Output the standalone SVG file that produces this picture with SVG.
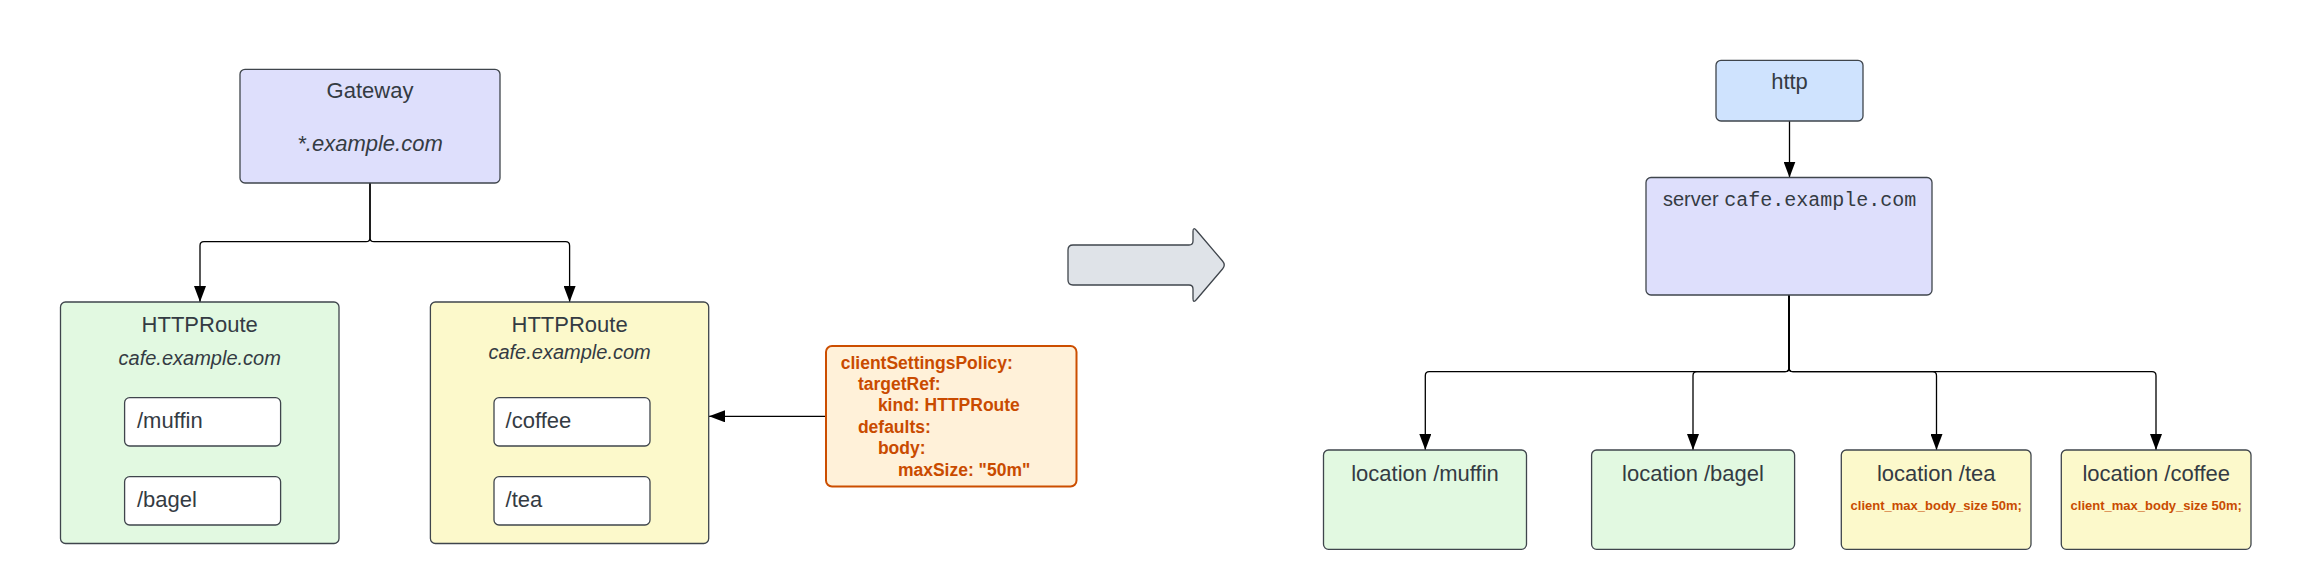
<svg xmlns="http://www.w3.org/2000/svg" width="2313" height="582" viewBox="0 0 2313 582">
<defs>
<style>
.box{stroke:#3f454c;stroke-width:1.3}
.lav{fill:#dedffc}
.grn{fill:#e2f9e1}
.yel{fill:#fcf9cb}
.blu{fill:#cfe3fe}
.wht{fill:#ffffff}
.t{font-family:"Liberation Sans",Arial,sans-serif;fill:#343b43;font-size:22px}
.i{font-style:italic;font-size:20px}
.s20{font-size:20px}
.c{text-anchor:middle}
.mono{font-family:"Liberation Mono","Courier New",monospace}
.pol{font-family:"Liberation Sans",Arial,sans-serif;font-weight:bold;fill:#c94b00;font-size:17.5px}
.cm{font-family:"Liberation Sans",Arial,sans-serif;font-weight:bold;fill:#c94b00;font-size:13px;text-anchor:middle}
.conn{fill:none;stroke:#000000;stroke-width:1.3}
</style>
<marker id="ah" viewBox="0 0 16 12" refX="16" refY="6" markerWidth="16" markerHeight="12" markerUnits="userSpaceOnUse" orient="auto">
<path d="M0,0 L16,6 L0,12 Z" fill="#000000"/>
</marker>
</defs>
<rect width="2313" height="582" fill="#ffffff"/>

<g id="connectors">
<path class="conn" marker-end="url(#ah)" d="M370,183 V237.7 Q370,241.7 366,241.7 H204 Q200,241.7 200,245.7 V302"/>
<path class="conn" marker-end="url(#ah)" d="M370,183 V237.7 Q370,241.7 374,241.7 H565.6 Q569.6,241.7 569.6,245.7 V302"/>
<path class="conn" marker-end="url(#ah)" d="M826,416.3 H709"/>
<path class="conn" marker-end="url(#ah)" d="M1789.5,121 V177.5"/>
<path class="conn" marker-end="url(#ah)" d="M1789,295 V367.7 Q1789,371.7 1785,371.7 H1429.3 Q1425.3,371.7 1425.3,375.7 V450"/>
<path class="conn" marker-end="url(#ah)" d="M1789,295 V367.7 Q1789,371.7 1785,371.7 H1697 Q1693,371.7 1693,375.7 V450"/>
<path class="conn" marker-end="url(#ah)" d="M1789,295 V367.7 Q1789,371.7 1793,371.7 H1932.5 Q1936.5,371.7 1936.5,375.7 V450"/>
<path class="conn" marker-end="url(#ah)" d="M1789,295 V367.7 Q1789,371.7 1793,371.7 H2152 Q2156,371.7 2156,375.7 V450"/>
</g>

<g id="gateway">
<rect class="box lav" x="240" y="69.3" width="260" height="113.7" rx="5"/>
<text class="t c" x="370" y="97.5">Gateway</text>
<text class="t c" x="370" y="150.5" font-style="italic">*.example.com</text>
</g>

<g id="httproute-green">
<rect class="box grn" x="60.5" y="302" width="278.5" height="241.5" rx="5"/>
<text class="t c" x="199.7" y="332">HTTPRoute</text>
<text class="t i c" x="199.7" y="365">cafe.example.com</text>
</g>
<g id="route-muffin">
<rect class="box wht" x="124.6" y="397.7" width="156" height="48.3" rx="5"/>
<text class="t" x="137" y="427.5">/muffin</text>
</g>
<g id="route-bagel">
<rect class="box wht" x="124.6" y="476.7" width="156" height="48.3" rx="5"/>
<text class="t" x="137" y="506.5">/bagel</text>
</g>

<g id="httproute-yellow">
<rect class="box yel" x="430.4" y="302" width="278.3" height="241.5" rx="5"/>
<text class="t c" x="569.6" y="332">HTTPRoute</text>
<text class="t i c" x="569.6" y="358.5">cafe.example.com</text>
</g>
<g id="route-coffee">
<rect class="box wht" x="494" y="397.7" width="156" height="48.3" rx="5"/>
<text class="t" x="505.6" y="427.5">/coffee</text>
</g>
<g id="route-tea">
<rect class="box wht" x="494" y="476.7" width="156" height="48.3" rx="5"/>
<text class="t" x="505.6" y="506.5">/tea</text>
</g>

<g id="policy">
<rect x="826" y="346" width="250.5" height="140.5" rx="6" fill="#fff1d9" stroke="#cc4e00" stroke-width="2"/>
<text class="pol" x="840.7" y="368.5">clientSettingsPolicy:</text>
<text class="pol" x="857.9" y="389.9">targetRef:</text>
<text class="pol" x="877.9" y="411.3">kind: HTTPRoute</text>
<text class="pol" x="857.9" y="432.7">defaults:</text>
<text class="pol" x="877.9" y="454.1">body:</text>
<text class="pol" x="897.9" y="475.5">maxSize: "50m"</text>
</g>

<g id="transform-arrow">
<path d="M1073,245 H1189 Q1193,245 1193,241 V231.5 Q1193,226.5 1196.5,230.5 L1222.5,261 Q1226,265 1222.5,269 L1196.5,299.5 Q1193,303.5 1193,298.5 V289 Q1193,285 1189,285 H1073 Q1068,285 1068,280 V250 Q1068,245 1073,245 Z" fill="#dfe3e8" stroke="#3f454c" stroke-width="1.3"/>
</g>

<g id="http">
<rect class="box blu" x="1716" y="60.3" width="147" height="60.7" rx="5"/>
<text class="t c" x="1789.5" y="88.5">http</text>
</g>

<g id="server">
<rect class="box lav" x="1646" y="177.5" width="286" height="117.5" rx="5"/>
<text class="t s20" x="1663" y="205.5">server <tspan class="mono">cafe.example.com</tspan></text>
</g>

<g id="loc-muffin">
<rect class="box grn" x="1323.5" y="450" width="203" height="99.3" rx="5"/>
<text class="t c" x="1425" y="480.5">location /muffin</text>
</g>
<g id="loc-bagel">
<rect class="box grn" x="1591.6" y="450" width="203" height="99.3" rx="5"/>
<text class="t c" x="1693" y="480.5">location /bagel</text>
</g>
<g id="loc-tea">
<rect class="box yel" x="1841.3" y="450" width="189.7" height="99.3" rx="5"/>
<text class="t c" x="1936.2" y="480.5">location /tea</text>
<text class="cm" x="1936.2" y="509.5">client_max_body_size 50m;</text>
</g>
<g id="loc-coffee">
<rect class="box yel" x="2061.3" y="450" width="189.7" height="99.3" rx="5"/>
<text class="t c" x="2156.2" y="480.5">location /coffee</text>
<text class="cm" x="2156.2" y="509.5">client_max_body_size 50m;</text>
</g>
</svg>
